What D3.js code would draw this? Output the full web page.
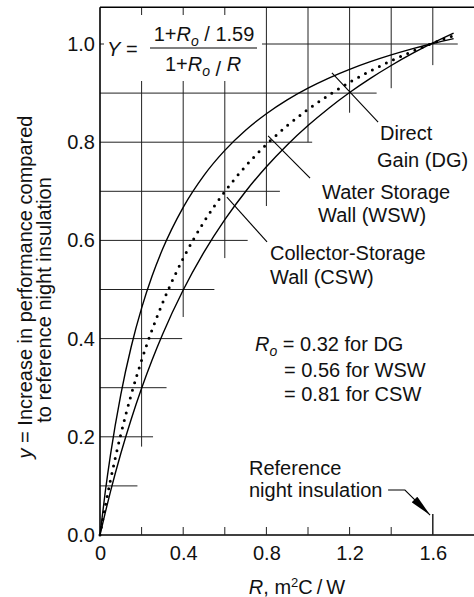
<!DOCTYPE html>
<html><head><meta charset="utf-8">
<script src="https://cdn.jsdelivr.net/npm/d3@7"></script>
<style>
body{margin:0;background:#fff}
svg{display:block}
text{font-family:"Liberation Sans",Arial,Helvetica,sans-serif;fill:#111}
</style>
</head><body>
<svg id="c" width="474" height="597"></svg>
<script>
// R values (m2C/W) and performance ratio Y for each wall type
const rVals = [0,0.025,0.05,0.1,0.15,0.2,0.25,0.3,0.4,0.5,0.6,0.7,0.8,0.9,1.0,1.1,1.2,1.3,1.4,1.5,1.6,1.7];
const dgVals  = [0,0.0871,0.1623,0.2860,0.3834,0.4620,0.5269,0.5813,0.6674,0.7325,0.7834,0.8244,0.8580,0.8862,0.9101,0.9306,0.9484,0.9640,0.9778,0.9901,1.0011,1.0110];
const wswVals = [0,0.0578,0.1108,0.2049,0.2857,0.3558,0.4174,0.4717,0.5634,0.6378,0.6994,0.7512,0.7954,0.8336,0.8668,0.8960,0.9220,0.9451,0.9659,0.9846,1.0016,1.0171];
const cswVals = [0,0.0452,0.0878,0.1659,0.2359,0.2989,0.3560,0.4080,0.4990,0.5761,0.6423,0.6997,0.7500,0.7944,0.8339,0.8693,0.9012,0.9300,0.9562,0.9802,1.0021,1.0223];
const xTickVals = [0,0.4,0.8,1.2,1.6];
const xMinorVals = [0.2,0.4,0.6,0.8,1.0,1.2,1.4];
const yTickVals = [0,0.2,0.4,0.6,0.8,1.0];
// partial grid lines: [level, extent]
const hGrid = [[0.1,0.18],[0.2,0.255],[0.3,0.32],[0.4,0.395],[0.5,0.55],[0.6,0.71],[0.7,0.865],[0.8,1.02],[0.9,1.33]];
const vGrid = [[0.2,0.18],[0.4,0.444],[0.6,0.564],[0.8,0.67],[1.0,0.80],[1.2,0.86],[1.4,0.91],[1.6,0.957]];
const refR = 1.6;

const svg = d3.select("#c");
const x = d3.scaleLinear().domain([0,1.8]).range([100,474.4]);
const y = d3.scaleLinear().domain([0,1]).range([535,44]);
const yTop = 1.075;
const FS = 20;

// grid
const grid = svg.append("g").attr("stroke","#222").attr("stroke-width",1);
hGrid.forEach(([v,to]) => grid.append("line").attr("x1",x(0)).attr("x2",x(to)).attr("y1",y(v)).attr("y2",y(v)));
vGrid.forEach(([v,to]) => grid.append("line").attr("x1",x(v)).attr("x2",x(v)).attr("y1",y(yTop)).attr("y2",y(to)));
grid.append("line").attr("x1",x(0.77)).attr("x2",x(1.72)).attr("y1",y(1)).attr("y2",y(1));
grid.append("line").attr("x1",x(0)).attr("x2",x(0.04)).attr("y1",y(1)).attr("y2",y(1));

// formula mask
svg.append("rect").attr("x",104).attr("y",15).attr("width",158).attr("height",66).attr("fill","#fff");

// curves
const pts = vals => rVals.map((r,i)=>[r,vals[i]]);
const line = d3.line().x(d=>x(d[0])).y(d=>y(d[1])).curve(d3.curveMonotoneX);
svg.append("path").datum(pts(dgVals)).attr("d",line).attr("fill","none").attr("stroke","#000").attr("stroke-width",1.4);
svg.append("path").datum(pts(cswVals)).attr("d",line).attr("fill","none").attr("stroke","#000").attr("stroke-width",1.4);
svg.append("path").datum(pts(wswVals)).attr("d",line).attr("fill","none").attr("stroke","#000")
  .attr("stroke-width",3).attr("stroke-linecap","round").attr("stroke-dasharray","0,7.8");

// axes frame
const frame = svg.append("g").attr("stroke","#000").attr("stroke-width",1.6);
frame.append("line").attr("x1",x(0)).attr("x2",x(0)).attr("y1",y(yTop)).attr("y2",y(0));
frame.append("line").attr("x1",x(0)).attr("x2",x(1.8)).attr("y1",y(0)).attr("y2",y(0));
frame.append("line").attr("x1",x(0)).attr("x2",x(1.8)).attr("y1",y(yTop)).attr("y2",y(yTop));
const ticks = svg.append("g").attr("stroke","#222").attr("stroke-width",1);
xMinorVals.forEach(v => ticks.append("line").attr("x1",x(v)).attr("x2",x(v)).attr("y1",y(0)).attr("y2",y(0)-8));
ticks.append("line").attr("x1",x(refR)).attr("x2",x(refR)).attr("y1",y(0)).attr("y2",y(0)-21).attr("stroke-width",1.5);

const ax = svg.append("g").attr("transform",`translate(0,${y(0)})`)
  .call(d3.axisBottom(x).tickValues(xTickVals).tickFormat(d=>d===0?"0":d3.format(".1f")(d)).tickSize(0).tickPadding(11));
const ay = svg.append("g").attr("transform",`translate(${x(0)},0)`)
  .call(d3.axisLeft(y).tickValues(yTickVals).tickFormat(d3.format(".1f")).tickSize(0).tickPadding(5));
[ax,ay].forEach(a=>{a.select(".domain").remove(); a.selectAll("text").attr("font-size",FS).attr("font-family",null).attr("fill","#111");});

// leader lines
const lead = svg.append("g").attr("stroke","#000").attr("stroke-width",1.1);
[[[1.115,0.941],[1.337,0.841]],[[0.808,0.813],[1.01,0.727]],[[0.61,0.688],[0.803,0.597]]].forEach(([a,b])=>
  lead.append("line").attr("x1",x(a[0])).attr("y1",y(a[1])).attr("x2",x(b[0])).attr("y2",y(b[1])));

// reference arrow
svg.append("defs").append("marker").attr("id","ah").attr("viewBox","0 0 10 10").attr("refX",10).attr("refY",5)
  .attr("markerWidth",22).attr("markerHeight",8).attr("markerUnits","userSpaceOnUse").attr("orient","auto")
  .attr("preserveAspectRatio","none")
  .append("path").attr("d","M0,0L10,5L0,10Z").attr("fill","#000");
svg.append("path").attr("d",`M${x(1.385)},${y(0.0916)}L${x(1.466)},${y(0.0916)}L${x(1.587)},${y(0.0407)}`)
  .attr("fill","none").attr("stroke","#000").attr("stroke-width",1.1).attr("marker-end","url(#ah)");

// text helper
function txt(xp,yp,parts,anchor){
  const t = svg.append("text").attr("x",xp).attr("y",yp).attr("font-size",FS).attr("text-anchor",anchor||"start");
  parts.forEach(p=>{
    const s = t.append("tspan").text(p.t);
    if(p.i) s.attr("font-style","italic");
    if(p.sub) s.attr("font-size",FS*0.7).attr("dy",5);
    if(p.up) s.attr("dy",-5);
    if(p.sup) s.attr("font-size",FS*0.65).attr("dy",-7);
    if(p.down) s.attr("dy",7);
  });
  return t;
}
// formula
txt(107,56,[{t:"Y",i:1},{t:" ="}]);
txt(204,41,[{t:"1+"},{t:"R",i:1},{t:"o",i:1,sub:1},{t:" / 1.59",up:1}],"middle");
svg.append("line").attr("x1",150).attr("x2",257).attr("y1",48).attr("y2",48).attr("stroke","#000").attr("stroke-width",1.2);
txt(203,71,[{t:"1+"},{t:"R",i:1},{t:"o",i:1,sub:1},{t:" / "},{t:"R",i:1,up:1}],"middle");

// labels
txt(380,140,[{t:"Direct"}]);
txt(377,167,[{t:"Gain (DG)"}]);
txt(322,199,[{t:"Water Storage"}]);
txt(318,222,[{t:"Wall (WSW)"}]);
txt(270,260,[{t:"Collector-Storage"}]);
txt(270,284,[{t:"Wall (CSW)"}]);
txt(255,351,[{t:"R",i:1},{t:"o",i:1,sub:1},{t:" = 0.32 for DG",up:1}]);
txt(284,377,[{t:"= 0.56 for WSW"}]);
txt(284,401,[{t:"= 0.81 for CSW"}]);
txt(249,475,[{t:"Reference"}]);
txt(249,497,[{t:"night insulation"}]);
txt(297,594,[{t:"R",i:1},{t:", m"},{t:"2",sup:1},{t:"C\u2009/\u2009W",down:1}],"middle");

// y label
const yl = svg.append("g");
const l1 = yl.append("text").attr("transform","translate(32,287) rotate(-90)").attr("text-anchor","middle").attr("font-size",FS);
l1.append("tspan").attr("font-style","italic").text("y");
l1.append("tspan").text(" = Increase in performance compared");
yl.append("text").attr("transform","translate(51,300) rotate(-90)").attr("text-anchor","middle").attr("font-size",FS).text("to reference night insulation");
</script>
</body></html>
